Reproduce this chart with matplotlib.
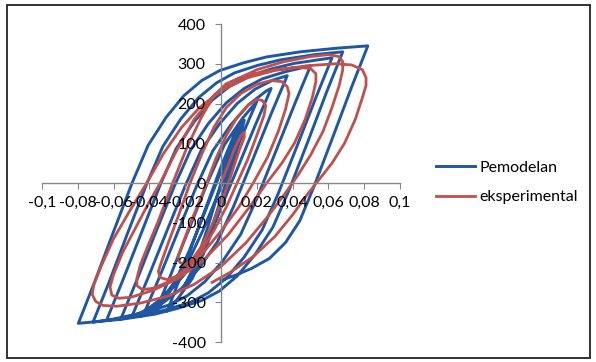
import matplotlib
matplotlib.use("Agg")
import matplotlib.pyplot as plt
from matplotlib.patches import Rectangle

# ---- tick definitions ----
x_ticks = [-0.1, -0.08, -0.06, -0.04, -0.02, 0, 0.02, 0.04, 0.06, 0.08, 0.1]
x_labels = ["-0,1", "-0,08", "-0,06", "-0,04", "-0,02", "0", "0,02", "0,04", "0,06", "0,08", "0,1"]
y_ticks = [-400, -300, -200, -100, 0, 100, 200, 300, 400]
y_labels = ["-400", "-300", "-200", "-100", "0", "100", "200", "300", "400"]

# ---- Pemodelan (model) hysteresis path: displacement / force ----
pemodelan_x = [
    0, 0.005, 0.010, 0.013, 0.008, 0.003, -0.004, -0.010, -0.016, -0.020, -0.014, -0.008, -0.002,
    0.004, 0.010, 0.012, 0.006, 0.000, -0.008, -0.016, -0.024,
    -0.030, -0.021, -0.011, 0.000, 0.009, 0.012,
    0.003, -0.007, -0.018, -0.027, -0.037,
    -0.028, -0.018, -0.007, 0.002, 0.012, 0.020,
    0.011, 0.001, -0.010, -0.019, -0.029, -0.039, -0.0436,
    -0.0346, -0.0246, -0.0136, -0.0046, 0.0054, 0.0154, 0.0254, 0.028,
    0.019, 0.009, -0.002, -0.011, -0.021, -0.031, -0.041, -0.050,
    -0.041, -0.031, -0.020, -0.011, -0.001, 0.009, 0.019, 0.029, 0.037,
    0.028, 0.018, 0.007, -0.002, -0.012, -0.022, -0.032, -0.042, -0.056,
    -0.047, -0.037, -0.026, -0.017, -0.007, 0.003, 0.013, 0.023, 0.036, 0.050,
    0.041, 0.031, 0.020, 0.011, 0.001, -0.009, -0.019, -0.029, -0.042, -0.064,
    -0.055, -0.045, -0.034, -0.025, -0.015, -0.005, 0.005, 0.015, 0.028, 0.041, 0.062,
    0.053, 0.043, 0.032, 0.023, 0.013, 0.003, -0.007, -0.017, -0.030, -0.043, -0.0715,
    -0.0625, -0.0525, -0.0415, -0.0325, -0.0225, -0.0125, -0.0025, 0.0075, 0.0205, 0.0335, 0.0525, 0.068,
    0.059, 0.049, 0.038, 0.029, 0.019, 0.009, -0.001, -0.011, -0.024, -0.037, -0.056, -0.0797,
    -0.0707, -0.0607, -0.0497, -0.0407, -0.0307, -0.0207, -0.0107, -0.0007, 0.0123, 0.0253, 0.0443, 0.0643, 0.082,
    0.073, 0.063, 0.052, 0.044, 0.036, 0.027, 0.017, 0.008, 0.000,
]
pemodelan_f = [
    0, 80, 140, 158, 70, -20, -110, -180, -230, -255, -200, -120, -30,
    60, 130, 150, 50, -40, -150, -240, -290,
    -322, -216, -93, 41, 139, 160,
    63, -50, -173, -262, -328,
    -230, -117, 7, 97, 163, 205,
    111, 1, -118, -204, -268, -319, -334,
    -239, -128, -7, 81, 146, 197, 232, 238,
    144, 35, -83, -169, -233, -283, -317, -338,
    -241, -129, -7, 83, 148, 200, 236, 259, 270,
    174, 62, -59, -148, -213, -265, -300, -323, -342,
    -244, -130, -7, 83, 150, 202, 238, 262, 280, 295,
    197, 84, -39, -129, -196, -248, -284, -307, -325, -346,
    -246, -131, -5, 87, 154, 208, 244, 268, 287, 301, 315,
    215, 99, -26, -118, -186, -239, -276, -300, -318, -333, -350,
    -249, -130, -2, 92, 161, 215, 252, 277, 296, 310, 323, 330,
    229, 110, -18, -111, -180, -234, -272, -296, -315, -330, -343, -353,
    -250, -130, 0, 95, 165, 220, 258, 283, 302, 317, 330, 339, 345,
    242, 122, -8, -95, -150, -190, -215, -232, -245,
]

# ---- Eksperimental (test) hysteresis path ----
eksperimental_x = [
    0, 0.004, 0.008, 0.011, 0.013, 0.013, 0.010, 0.006, 0.001, -0.005, -0.011, -0.016, -0.020, -0.023, -0.024,
    -0.022, -0.017, -0.012, -0.008, -0.003, 0.003, 0.009, 0.015, 0.020, 0.023, 0.025,
    0.024, 0.020, 0.015, 0.009, 0.003, -0.004, -0.011, -0.018, -0.025, -0.030, -0.034, -0.035,
    -0.033, -0.029, -0.024, -0.0173, -0.011, -0.004, 0.003, 0.011, 0.020, 0.028, 0.034, 0.037, 0.038,
    0.036, 0.032, 0.026, 0.018, 0.010, 0.001, -0.009, -0.019, -0.029, -0.038, -0.044, -0.047, -0.047,
    -0.045, -0.041, -0.035, -0.027, -0.019, -0.011, -0.004, 0.003, 0.015, 0.030, 0.043, 0.050, 0.053, 0.053,
    0.051, 0.047, 0.041, 0.034, 0.0255, 0.016, 0.004, -0.010, -0.024, -0.038, -0.050, -0.057, -0.061, -0.062,
    -0.060, -0.055, -0.048, -0.041, -0.034, -0.025, -0.015, -0.005, 0.006, 0.020, 0.035, 0.050, 0.060, 0.066, 0.068, 0.068,
    0.066, 0.062, 0.057, 0.050, 0.043, 0.036, 0.026, 0.014, 0.000, -0.015, -0.030, -0.045, -0.058, -0.066, -0.070, -0.072,
    -0.071, -0.067, -0.060, -0.051, -0.0415, -0.032, -0.022, -0.012, 0.000, 0.015, 0.030, 0.048, 0.064, 0.073, 0.079, 0.081, 0.081,
    0.079, 0.075, 0.069, 0.062, 0.055, 0.048, 0.040, 0.030, 0.018, 0.005, -0.005,
]
eksperimental_f = [
    0, 45, 90, 118, 128, 115, 80, 25, -40, -105, -160, -192, -205, -200, -185,
    -160, -100, -45, 0, 60, 120, 165, 195, 210, 208, 195,
    170, 120, 60, 0, -60, -120, -170, -210, -235, -243, -238, -222,
    -195, -145, -85, 0, 70, 140, 190, 225, 248, 258, 255, 242, 225,
    185, 130, 65, 0, -60, -115, -170, -215, -248, -265, -268, -258, -240,
    -205, -160, -95, 0, 90, 165, 220, 250, 272, 285, 291, 288, 275, 255,
    215, 160, 100, 50, 0, -60, -130, -195, -240, -270, -287, -290, -282, -262,
    -230, -175, -115, -55, 0, 80, 160, 215, 255, 285, 305, 318, 323, 318, 305, 285,
    245, 190, 130, 70, 20, -25, -85, -150, -210, -255, -285, -302, -310, -308, -298, -280,
    -255, -210, -140, -70, 0, 75, 140, 190, 232, 265, 283, 295, 300, 297, 285, 265, 245,
    215, 160, 100, 50, 10, -30, -80, -135, -185, -225, -250,
]

BLUE = "#1f57a3"
RED = "#c0504d"

fig = plt.figure(figsize=(5.96, 3.62), dpi=100)
plt.rcParams["font.family"] = ["Lato", "DejaVu Sans"]
ax = fig.add_axes([0.0705, 0.0552, 0.6007, 0.8785])

ax.plot(pemodelan_x, pemodelan_f, color=BLUE, lw=2.1, solid_joinstyle="round", label="Pemodelan")
ax.plot(eksperimental_x, eksperimental_f, color=RED, lw=2.0, solid_joinstyle="round", label="eksperimental")

ax.set_xlim(-0.1, 0.1)
ax.set_ylim(-400, 400)
ax.set_xticks(x_ticks)
ax.set_xticklabels(x_labels)
ax.set_yticks(y_ticks)
ax.set_yticklabels(y_labels)

for s in ("top", "right"):
    ax.spines[s].set_visible(False)
ax.spines["left"].set_position(("data", 0))
ax.spines["bottom"].set_position(("data", 0))
for s in ("left", "bottom"):
    ax.spines[s].set_color("#868686")
    ax.spines[s].set_linewidth(1.0)
ax.set_axisbelow(False)
ax.tick_params(axis="both", direction="out", length=4, color="#868686", labelsize=11.5, labelcolor="#000000")
ax.tick_params(axis="x", pad=5)
ax.tick_params(axis="y", pad=7)
ax.patch.set_visible(False)

fig.legend(loc="center left", bbox_to_anchor=(0.708, 0.496), frameon=False,
           handlelength=2.4, handletextpad=0.3, labelspacing=0.95, fontsize=11.5)

fig.patches.append(Rectangle((0.0117, 0.011), 0.978, 0.975, transform=fig.transFigure,
                             fill=False, ec="#222222", lw=1.3))

fig.savefig("out.png", dpi=100)
